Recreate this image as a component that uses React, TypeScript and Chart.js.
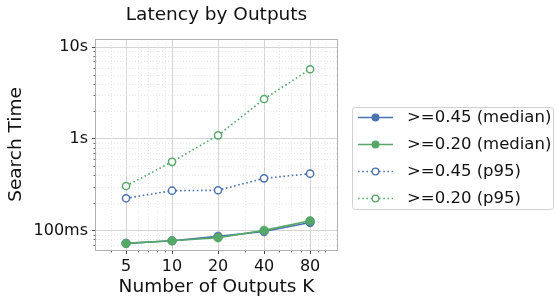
import React, { useEffect, useRef } from "react";
import { Chart, registerables } from "chart.js";

Chart.register(...registerables);

// ---- data ----
const outputsK = [5, 10, 20, 40, 80];
const median045 = [0.072, 0.077, 0.086, 0.097, 0.122];
const median020 = [0.072, 0.077, 0.083, 0.1, 0.127];
const p95045 = [0.224, 0.271, 0.274, 0.37, 0.416];
const p95020 = [0.305, 0.56, 1.09, 2.72, 5.75];
const seriesLabels = [">=0.45 (median)", ">=0.20 (median)", ">=0.45 (p95)", ">=0.20 (p95)"];
const yTickValues = [0.1, 1, 10];
const xMinorTicks = [4, 6, 7, 8, 9, 30, 50, 60, 70, 90, 100];
const yMinorTicks = [0.07, 0.08, 0.09, 0.2, 0.3, 0.4, 0.5, 0.6, 0.7, 0.8, 0.9, 2, 3, 4, 5, 6, 7, 8, 9];
const titleText = "Latency by Outputs";
const xTitle = "Number of Outputs K";
const yTitle = "Search Time";

const BLUE = "#4C72B0";
const GREEN = "#55A868";
const FONT = "'DejaVu Sans', sans-serif";

const fmtTime = (v: number) => (v >= 1 ? `${Math.round(v)}s` : `${Math.round(v * 1000)}ms`);

const decor = {
  id: "decor",
  beforeDatasetsDraw(chart: any) {
    const { ctx, chartArea: a, scales } = chart;
    const x = scales.x;
    const y = scales.y;
    ctx.save();
    // minor grid
    ctx.strokeStyle = "#e2e2e2";
    ctx.lineWidth = 0.8;
    ctx.setLineDash([1, 2]);
    for (const v of xMinorTicks) {
      const px = Math.round(x.getPixelForValue(v)) + 0.5;
      if (px < a.left || px > a.right) continue;
      ctx.beginPath();
      ctx.moveTo(px, a.top);
      ctx.lineTo(px, a.bottom);
      ctx.stroke();
    }
    for (const v of yMinorTicks) {
      const py = Math.round(y.getPixelForValue(v)) + 0.5;
      if (py < a.top || py > a.bottom) continue;
      ctx.beginPath();
      ctx.moveTo(a.left, py);
      ctx.lineTo(a.right, py);
      ctx.stroke();
    }
    ctx.setLineDash([]);
    // minor ticks
    ctx.strokeStyle = "#444";
    ctx.lineWidth = 0.8;
    for (const v of xMinorTicks) {
      const px = Math.round(x.getPixelForValue(v)) + 0.5;
      if (px < a.left || px > a.right) continue;
      ctx.beginPath();
      ctx.moveTo(px, a.bottom);
      ctx.lineTo(px, a.bottom + 2.5);
      ctx.stroke();
    }
    for (const v of yMinorTicks) {
      const py = Math.round(y.getPixelForValue(v)) + 0.5;
      if (py < a.top || py > a.bottom) continue;
      ctx.beginPath();
      ctx.moveTo(a.left - 2.5, py);
      ctx.lineTo(a.left, py);
      ctx.stroke();
    }
    // spines
    ctx.strokeStyle = "#b0b0b0";
    ctx.lineWidth = 1;
    ctx.strokeRect(Math.round(a.left) - 0.5, Math.round(a.top) + 0.5, Math.round(a.right - a.left) + 1, Math.round(a.bottom - a.top));
    ctx.restore();
  },
  afterDraw(chart: any) {
    const { ctx, chartArea: a } = chart;
    ctx.save();
    // title
    ctx.fillStyle = "#111";
    ctx.font = `18.5px ${FONT}`;
    ctx.textAlign = "center";
    ctx.textBaseline = "alphabetic";
    ctx.fillText(titleText, (a.left + a.right) / 2, 20);
    // legend
    const bx = 352.5, by = 107.5, bw = 201, bh = 102;
    ctx.beginPath();
    ctx.roundRect(bx, by, bw, bh, 3);
    ctx.fillStyle = "rgba(255,255,255,0.85)";
    ctx.fill();
    ctx.strokeStyle = "#d0d0d0";
    ctx.lineWidth = 1;
    ctx.stroke();
    const rows = [117, 144, 171, 198];
    chart.data.datasets.forEach((ds: any, i: number) => {
      const ry = rows[i] + 0.5;
      ctx.save();
      ctx.strokeStyle = ds.borderColor;
      ctx.lineWidth = ds.borderWidth;
      ctx.setLineDash(ds.borderDash || []);
      ctx.beginPath();
      ctx.moveTo(358, ry);
      ctx.lineTo(393, ry);
      ctx.stroke();
      ctx.setLineDash([]);
      ctx.beginPath();
      ctx.arc(375.5, ry, 3.3, 0, Math.PI * 2);
      ctx.fillStyle = ds.pointBackgroundColor;
      ctx.fill();
      ctx.lineWidth = 1.3;
      ctx.strokeStyle = ds.pointBorderColor;
      ctx.stroke();
      ctx.restore();
      ctx.fillStyle = "#111";
      ctx.font = `16.5px ${FONT}`;
      ctx.textAlign = "left";
      ctx.textBaseline = "middle";
      ctx.fillText(ds.label, 407, ry);
    });
    ctx.restore();
  },
};

export default function App() {
  const ref = useRef<HTMLCanvasElement | null>(null);
  useEffect(() => {
    document.body.style.margin = "0";
    if (!ref.current) return;
    const mk = (vals: number[]) => outputsK.map((k, i) => ({ x: k, y: vals[i] }));
    const solid = (label: string, color: string, vals: number[], order: number) => ({
      label,
      data: mk(vals),
      borderColor: color,
      backgroundColor: color,
      borderWidth: 1.6,
      pointRadius: 4.2,
      pointBackgroundColor: color,
      pointBorderColor: color,
      pointBorderWidth: 1,
      order,
    });
    const dotted = (label: string, color: string, vals: number[], order: number) => ({
      label,
      data: mk(vals),
      borderColor: color,
      backgroundColor: "#ffffff",
      borderWidth: 1.6,
      borderDash: [1.6, 2.6],
      pointRadius: 3.6,
      pointBackgroundColor: "#ffffff",
      pointBorderColor: color,
      pointBorderWidth: 1.5,
      order,
    });
    const chart = new Chart(ref.current, {
      type: "line",
      data: {
        datasets: [
          solid(seriesLabels[0], BLUE, median045, 3),
          solid(seriesLabels[1], GREEN, median020, 2),
          dotted(seriesLabels[2], BLUE, p95045, 1),
          dotted(seriesLabels[3], GREEN, p95020, 0),
        ],
      },
      options: {
        animation: false,
        responsive: false,
        layout: { padding: { top: 39, right: 219, left: 0, bottom: 0 } },
        plugins: { legend: { display: false }, tooltip: { enabled: false }, title: { display: false } },
        scales: {
          x: {
            type: "logarithmic",
            min: 3.18,
            max: 120,
            bounds: "data",
            afterBuildTicks: (s: any) => {
              s.ticks = outputsK.map((v) => ({ value: v }));
            },
            afterFit: (s: any) => {
              s.height = 51;
            },
            ticks: {
              autoSkip: false,
              maxRotation: 0,
              padding: 3,
              color: "#111",
              font: { family: FONT, size: 16 },
              callback: (v: any) => String(v),
            },
            grid: { color: "#d4d4d4", lineWidth: 1, drawTicks: true, tickLength: 4, tickColor: "#444", tickWidth: 1 },
            border: { display: false },
            title: {
              display: true,
              text: xTitle,
              color: "#111",
              font: { family: FONT, size: 18.5 },
              padding: { top: 0, bottom: 3 },
            },
          },
          y: {
            type: "logarithmic",
            min: 0.061,
            max: 12.3,
            bounds: "data",
            afterBuildTicks: (s: any) => {
              s.ticks = yTickValues.map((v) => ({ value: v }));
            },
            afterFit: (s: any) => {
              s.width = 96;
            },
            ticks: {
              autoSkip: false,
              padding: 4,
              color: "#111",
              font: { family: FONT, size: 16 },
              callback: (v: any) => fmtTime(Number(v)),
            },
            grid: { color: "#d4d4d4", lineWidth: 1, drawTicks: true, tickLength: 4, tickColor: "#444", tickWidth: 1 },
            border: { display: false },
            title: {
              display: true,
              text: yTitle,
              color: "#111",
              font: { family: FONT, size: 18.5 },
              padding: { top: 5, bottom: 0 },
            },
          },
        },
      },
      plugins: [decor],
    });
    return () => chart.destroy();
  }, []);
  return (
    <div style={{ width: 556, height: 301 }}>
      <canvas ref={ref} width={556} height={301} style={{ display: "block", width: 556, height: 301 }} />
    </div>
  );
}
